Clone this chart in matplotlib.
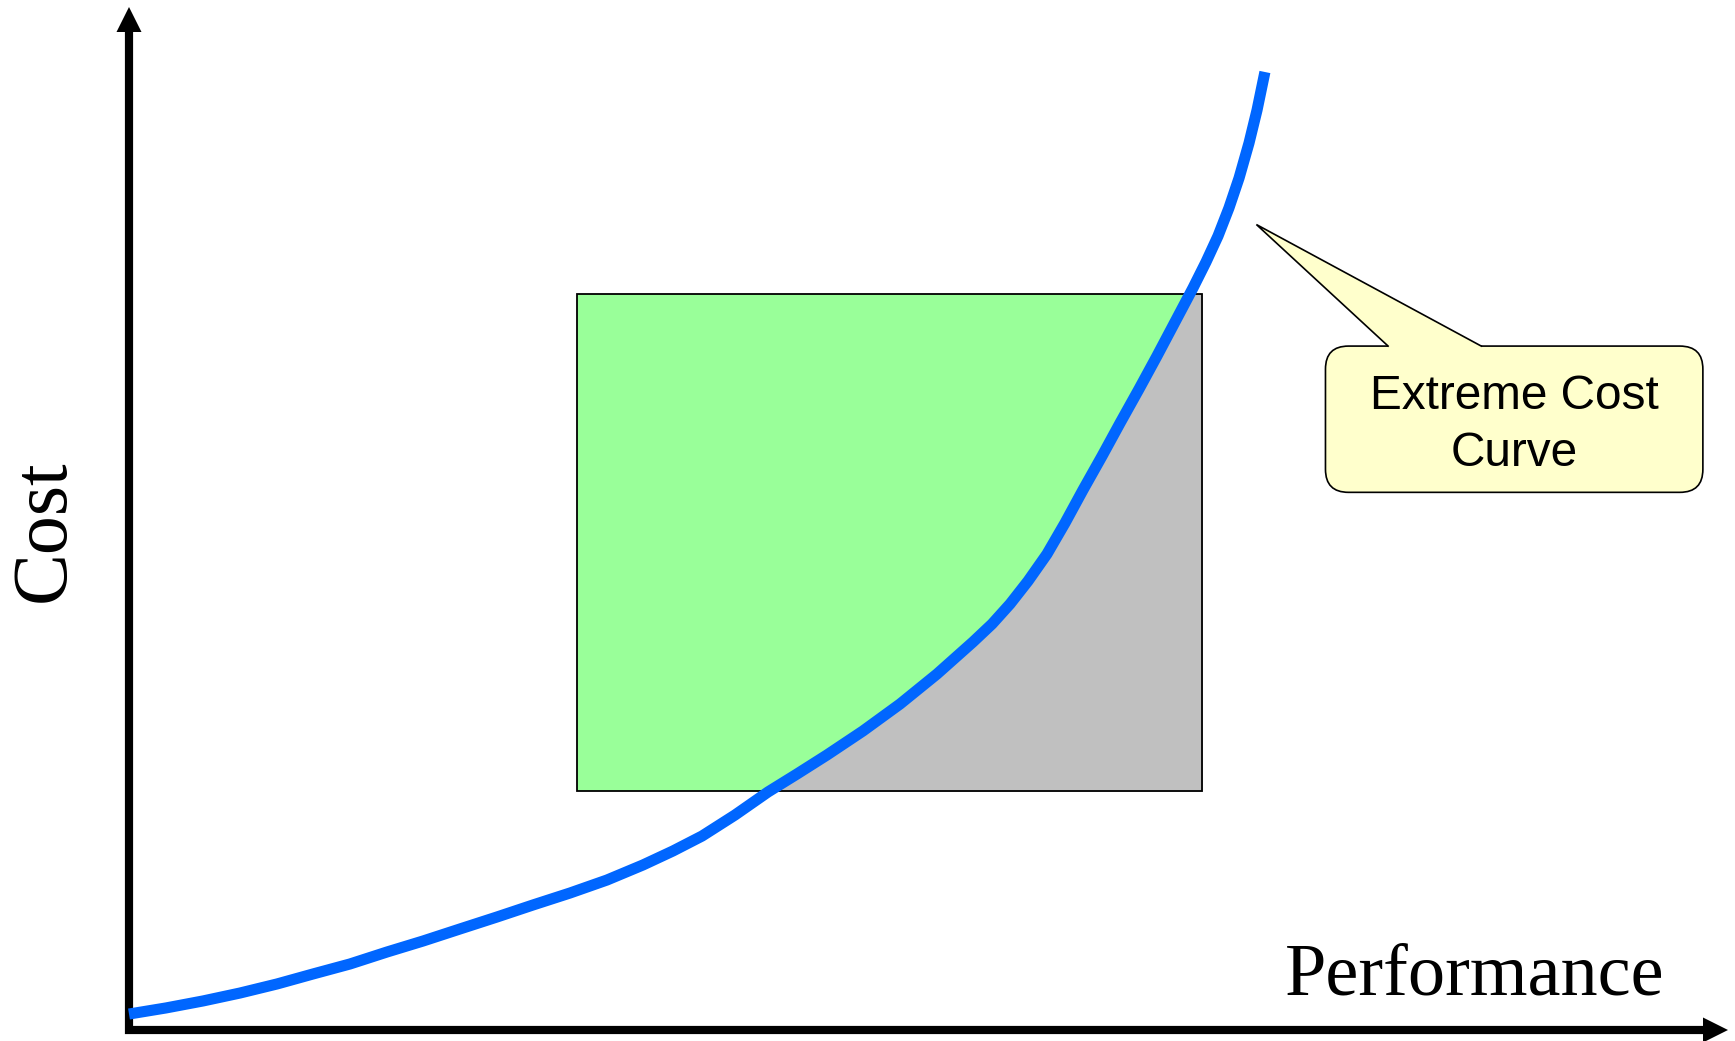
import numpy as np
import matplotlib
matplotlib.use("Agg")
import matplotlib.pyplot as plt
from matplotlib.patches import Rectangle, FancyBboxPatch, Polygon

# Extreme cost curve: performance (x) vs cost (y), both on a 0-100 scale
performance = [0.00, 2.30, 4.61, 6.91, 9.22, 11.46, 13.76, 16.06, 18.31, 20.61,
               22.91, 25.16, 27.46, 29.76, 32.00, 33.87, 35.68, 37.73, 39.79, 41.59,
               43.46, 45.70, 48.01, 50.31, 52.55, 53.74, 54.86, 55.98, 57.16, 58.28,
               59.40, 60.59, 61.71, 62.89, 64.01, 65.13, 66.25, 67.06, 67.81, 68.49,
               69.12, 69.74, 70.24, 70.73]
cost = [1.55, 2.14, 2.82, 3.59, 4.47, 5.44, 6.41, 7.57, 8.64, 9.81,
        10.97, 12.14, 13.30, 14.56, 16.02, 17.38, 18.83, 20.87, 23.11, 24.85,
        26.70, 29.03, 31.65, 34.56, 37.67, 39.42, 41.36, 43.59, 46.21, 49.22,
        52.43, 55.73, 58.93, 62.23, 65.44, 68.74, 72.04, 74.56, 77.09, 79.81,
        82.72, 86.12, 89.32, 93.01]

# Target operating window (performance range, cost range)
window_perf = (27.9, 66.8)
window_cost = (23.2, 71.5)

axis_labels = ("Performance", "Cost")
callout_text = "Extreme Cost\nCurve"

W, H = 1735, 1041
fig = plt.figure(figsize=(W / 100, H / 100), dpi=100)
ox, oy = 129, 1030  # axis origin in pixels (from top-left)
ax = fig.add_axes([ox / W, (H - oy) / H, (W - ox) / W, oy / H])
ax.set_xlim(0, 100)
ax.set_ylim(0, 100)
ax.axis("off")

# pixel-per-unit factors for shapes that must stay square on screen
sx = (W - ox) / 100.0
sy = oy / 100.0

# Operating window: green where cost is above the curve, gray below it
x0, x1 = window_perf
y0, y1 = window_cost
green = Rectangle((x0, y0), x1 - x0, y1 - y0, facecolor="#99ff99",
                  edgecolor="none", zorder=1)
ax.add_patch(green)
clip = Rectangle((x0, y0), x1 - x0, y1 - y0, transform=ax.transData,
                 facecolor="none", edgecolor="none")
ax.add_patch(clip)
gray = ax.fill_between(performance, 0, cost, color="#c0c0c0", lw=0, zorder=2)
gray.set_clip_path(clip)
ax.add_patch(Rectangle((x0, y0), x1 - x0, y1 - y0, facecolor="none",
                       edgecolor="black", lw=1.3, zorder=3))

# Cost curve
ax.plot(performance, cost, color="#0066ff", lw=8, solid_capstyle="butt",
        solid_joinstyle="round", zorder=6, clip_on=False)

# Axes with arrow heads
lw_axis = 5.9
head_len_px, head_half_px = 25, 12.5
ytip = 100 - 7 / sy
xtip = 100 - 7 / sx
ax.plot([0, 0, xtip - head_len_px / sx], [ytip - head_len_px / sy, 0, 0],
        color="black", lw=lw_axis, solid_joinstyle="miter",
        solid_capstyle="butt", zorder=5, clip_on=False)
ax.add_patch(Polygon([(0, ytip), (-head_half_px / sx, ytip - head_len_px / sy),
                      (head_half_px / sx, ytip - head_len_px / sy)],
                     closed=True, facecolor="black", edgecolor="none",
                     zorder=5, clip_on=False))
ax.add_patch(Polygon([(xtip, 0), (xtip - head_len_px / sx, head_half_px / sy),
                      (xtip - head_len_px / sx, -head_half_px / sy)],
                     closed=True, facecolor="black", edgecolor="none",
                     zorder=5, clip_on=False))

# Axis titles
serif = ["Liberation Serif", "DejaVu Serif"]
ax.text(72.0, 3.4, axis_labels[0], family=serif, fontsize=53.5,
        ha="left", va="baseline", zorder=7)
ax.text(-65 / sx, 48.5, axis_labels[1], family=serif, fontsize=56,
        rotation=90, rotation_mode="anchor", ha="center", va="baseline",
        zorder=7, clip_on=False)

# Callout bubble pointing at the curve
bx0, bx1 = 74.5, 98.0
by0, by1 = 52.2, 66.4
r = 23 / sx
box = FancyBboxPatch((bx0, by0), bx1 - bx0, by1 - by0,
                     boxstyle=f"round,pad=0,rounding_size={r}",
                     mutation_aspect=sx / sy,
                     facecolor="#ffffcc", edgecolor="black", lw=1.2, zorder=8)
ax.add_patch(box)
tip = (70.2, 78.2)
bl, br = 78.4, 84.2
eps = 0.4
ax.add_patch(Polygon([tip, (bl, by1), (bl, by1 - eps), (br, by1 - eps), (br, by1)],
                     closed=True, facecolor="#ffffcc", edgecolor="none",
                     zorder=9))
ax.plot([bl, tip[0], br], [by1, tip[1], by1], color="black", lw=1.2,
        solid_joinstyle="miter", zorder=10)
ax.text((bx0 + bx1) / 2, 58.74, callout_text,
        family=["Liberation Sans", "DejaVu Sans"], fontsize=34.4,
        ha="center", va="center", linespacing=1.36, zorder=11)

fig.savefig("out.png", dpi=100)
